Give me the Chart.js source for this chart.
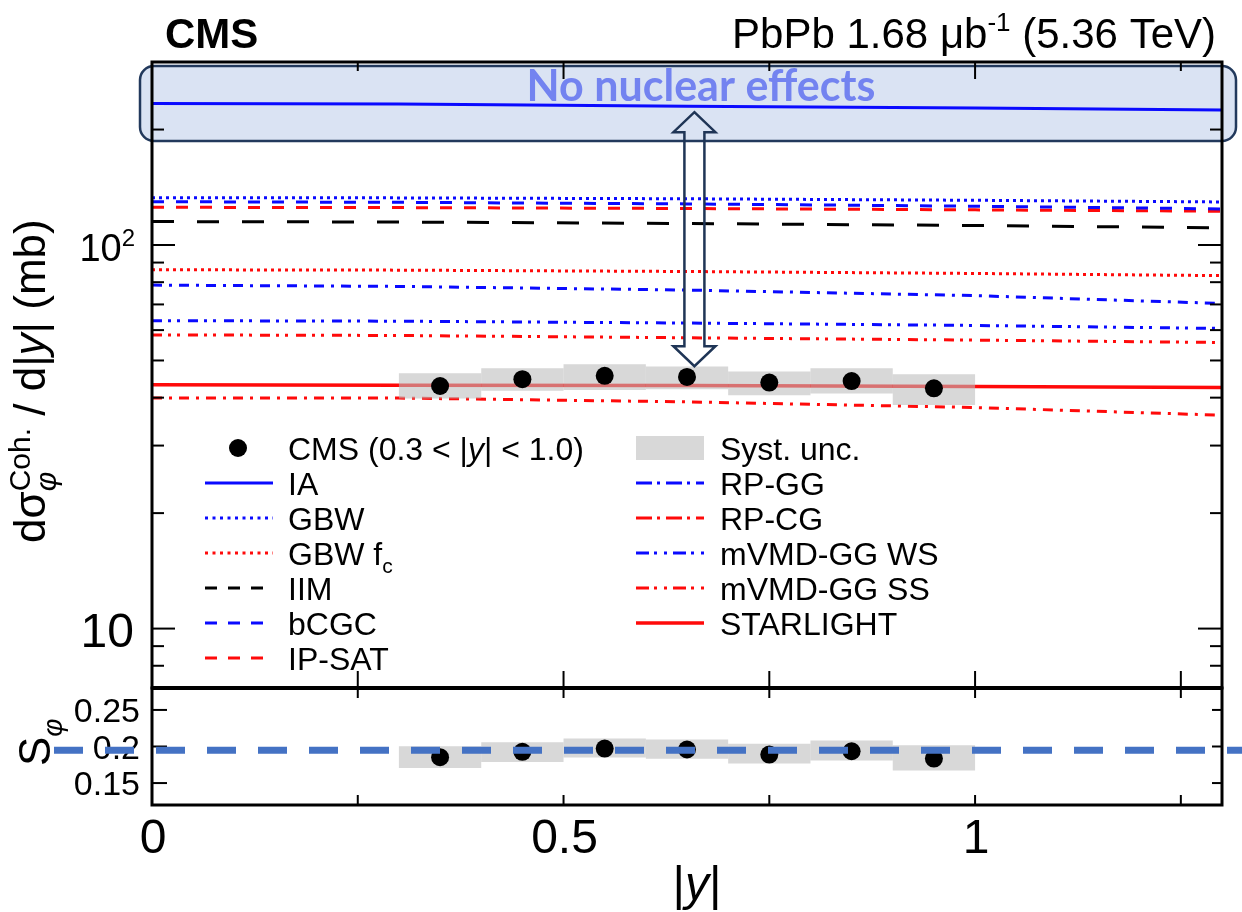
<!DOCTYPE html>
<html>
<head>
<meta charset="utf-8">
<title>Coherent phi photoproduction in PbPb</title>
<script src="https://cdn.jsdelivr.net/npm/chart.js@4.4.1/dist/chart.umd.min.js"></script>
<style>
  html, body { margin: 0; padding: 0; background: #ffffff; }
  #wrap { position: relative; width: 1242px; height: 912px; }
  #wrap canvas { position: absolute; left: 0; top: 0; }
</style>
</head>
<body>
<div id="wrap">
  <canvas id="xsec" width="1242" height="912"></canvas>
  <canvas id="ratio" width="1242" height="912"></canvas>
</div>
<script>
// ---------------- measured points ----------------
const binCenters   = [0.35, 0.45, 0.55, 0.65, 0.75, 0.85, 0.95];
const cmsXsec      = [42.9, 44.7, 45.6, 45.3, 43.8, 44.2, 42.3];   // mb
const cmsSystLow   = [39.8, 41.7, 41.9, 42.1, 40.6, 41.0, 38.3];
const cmsSystHigh  = [46.3, 47.7, 48.9, 48.2, 46.8, 47.7, 46.0];
const cmsSphi      = [0.1853, 0.1927, 0.1972, 0.1959, 0.1890, 0.1935, 0.1835];
const sphiSystLow  = [0.1707, 0.1789, 0.1848, 0.1831, 0.1766, 0.1807, 0.1673];
const sphiSystHigh = [0.2004, 0.2059, 0.2110, 0.2096, 0.2037, 0.2083, 0.2018];
const sphiReference = 0.195;

// ---------------- model curves ----------------
const modelRapidity  = [0, 0.3, 0.65, 1.0, 1.3];
const iaXsec         = [234, 233, 230, 227.5, 225];
const gbwXsec        = [132.9, 132.7, 132.0, 130.8, 129.5];
const gbwFcXsec      = [86.2, 86.0, 85.3, 84.3, 83.2];
const iimXsec        = [115.1, 114.8, 113.8, 112.4, 110.9];
const bcgcXsec       = [129.7, 129.2, 128.0, 126.2, 124.2];
const ipsatXsec      = [125.4, 125.2, 124.5, 123.5, 122.5];
const rpggXsec       = [78.6, 78.0, 76.3, 73.8, 70.4];
const rpcgXsec       = [39.9, 39.9, 39.0, 37.7, 36.0];
const mvmdWsXsec     = [63.5, 63.3, 62.6, 61.7, 60.6];
const mvmdSsXsec     = [58.3, 58.1, 57.3, 56.5, 55.7];
const starlightXsec  = [43.2, 43.1, 43.0, 42.8, 42.5];

// ---------------- axis ticks ----------------
const xTickValues   = [0, 0.25, 0.5, 0.75, 1.0, 1.25];
const xLabelValues  = [0, 0.5, 1];
const xLabelTexts   = ['0', '0.5', '1'];
const yMajorValues  = [10, 100];
const yMinorValues  = [8, 9, 20, 30, 40, 50, 60, 70, 80, 90, 200];
const sphiTickValues = [0.15, 0.2, 0.25];
const sphiTickTexts  = ['0.15', '0.2', '0.25'];

// arrow linking the no-nuclear-effects band to the data
const arrowRapidity = 0.659;
const arrowFrom = 48.3;
const arrowTo   = 222;

const FAM = '"Liberation Sans", Arial, Helvetica, sans-serif';
const SYST_FILL = 'rgba(188,188,188,0.58)';
const BLUE = '#0a0aff', RED = '#ff0a0a';

const models = [
  { name: 'IA',          values: iaXsec,        color: BLUE,   width: 3,   dash: [],                  legendDash: [] },
  { name: 'GBW',         values: gbwXsec,       color: BLUE,   width: 3,   dash: [3, 4],              legendDash: [3, 4.5] },
  { name: 'GBW f_c',     values: gbwFcXsec,     color: RED,    width: 3,   dash: [3, 4],              legendDash: [3, 4.5] },
  { name: 'IIM',         values: iimXsec,       color: '#000', width: 3,   dash: [22, 23],            legendDash: [12, 11] },
  { name: 'bCGC',        values: bcgcXsec,      color: BLUE,   width: 3,   dash: [12, 12],            legendDash: [12, 11] },
  { name: 'IP-SAT',      values: ipsatXsec,     color: RED,    width: 3,   dash: [12, 12],            legendDash: [12, 11] },
  { name: 'RP-GG',       values: rpggXsec,      color: BLUE,   width: 3,   dash: [10, 7, 3, 7],       legendDash: [16, 5, 3, 6] },
  { name: 'RP-CG',       values: rpcgXsec,      color: RED,    width: 3,   dash: [10, 7, 3, 7],       legendDash: [16, 5, 3, 6] },
  { name: 'mVMD-GG WS',  values: mvmdWsXsec,    color: BLUE,   width: 3,   dash: [10, 6, 3, 6, 3, 8], legendDash: [13, 5, 3, 7, 3, 6] },
  { name: 'mVMD-GG SS',  values: mvmdSsXsec,    color: RED,    width: 3,   dash: [10, 6, 3, 6, 3, 8], legendDash: [13, 5, 3, 7, 3, 6] },
  { name: 'STARLIGHT',   values: starlightXsec, color: RED,    width: 3.5, dash: [],                  legendDash: [] }
];

// ---------------- text helper: runs of plain / italic / raised text ----------------
function rich(ctx, segs, x, y, opt) {
  opt = opt || {};
  const sx = opt.sx || 1;
  const items = [];
  let cx = 0, lastStart = 0;
  for (const s of segs) {
    const font = (s.it ? 'italic ' : '') + (s.b ? 'bold ' : '') + (s.px || opt.px || 30) + 'px ' + (s.fam || opt.fam || FAM);
    ctx.font = font;
    const w = ctx.measureText(s.t).width;
    let start = cx;
    if (s.back) { start = lastStart; cx = Math.max(cx, start + w); }
    else { cx = start + w; lastStart = start; }
    items.push({ s, start, font });
  }
  const total = cx * sx;
  let x0 = x;
  if (opt.align === 'right') x0 = x - total;
  else if (opt.align === 'center') x0 = x - total / 2;
  for (const it of items) {
    ctx.save();
    ctx.font = it.font;
    ctx.fillStyle = it.s.color || opt.color || '#000';
    ctx.textAlign = 'left';
    ctx.textBaseline = 'alphabetic';
    ctx.translate(x0 + it.start * sx, y + (it.s.dy || 0));
    ctx.scale(sx, 1);
    ctx.fillText(it.s.t, 0, 0);
    ctx.restore();
  }
  return total;
}

function modelLabel(name, px) {
  if (name.indexOf('_') < 0) return [{ t: name, px }];
  const [a, b] = name.split('_');
  return [{ t: a, px }, { t: b, px: Math.round(px * 0.66), dy: 8 }];
}

function line(ctx, x1, y1, x2, y2) {
  ctx.beginPath(); ctx.moveTo(x1, y1); ctx.lineTo(x2, y2); ctx.stroke();
}

// ---------------- decorations of the cross-section panel ----------------
const xsecDecor = {
  id: 'xsecDecor',
  beforeDatasetsDraw(chart) {
    const { ctx, chartArea: a } = chart;
    // "no nuclear effects" band
    const L = a.left - 12, R = a.right + 14, T = a.top + 4, B = a.top + 79, r = 14;
    ctx.save();
    ctx.beginPath();
    ctx.roundRect(L, T, R - L, B - T, r);
    ctx.fillStyle = '#dae3f3';
    ctx.fill();
    ctx.lineWidth = 2.5;
    ctx.strokeStyle = '#22395c';
    ctx.stroke();
    ctx.restore();
  },
  afterDatasetsDraw(chart) {
    const { ctx, chartArea: a } = chart;
    const xs = chart.scales.x, ys = chart.scales.y;
    ctx.save();
    ctx.font = 'bold 43px Lato, "Open Sans", sans-serif';
    ctx.fillStyle = '#7383f0';
    ctx.textAlign = 'center';
    ctx.textBaseline = 'alphabetic';
    ctx.fillText('No nuclear effects', 701, a.top + 39);
    // hollow double arrow
    const ax = xs.getPixelForValue(arrowRapidity);
    const yT = ys.getPixelForValue(arrowTo), yB = ys.getPixelForValue(arrowFrom);
    const hw = 21, sw = 10, hl = 20;
    ctx.beginPath();
    ctx.moveTo(ax, yT);
    ctx.lineTo(ax + hw, yT + hl); ctx.lineTo(ax + sw, yT + hl);
    ctx.lineTo(ax + sw, yB - hl); ctx.lineTo(ax + hw, yB - hl);
    ctx.lineTo(ax, yB);
    ctx.lineTo(ax - hw, yB - hl); ctx.lineTo(ax - sw, yB - hl);
    ctx.lineTo(ax - sw, yT + hl); ctx.lineTo(ax - hw, yT + hl);
    ctx.closePath();
    ctx.lineWidth = 2.5;
    ctx.lineJoin = 'miter';
    ctx.strokeStyle = '#1f3556';
    ctx.stroke();
    ctx.restore();
  },
  afterDraw(chart) {
    const { ctx, chartArea: a } = chart;
    const xs = chart.scales.x, ys = chart.scales.y;
    ctx.save();
    ctx.strokeStyle = '#000';
    ctx.lineWidth = 2;
    // ticks
    for (const v of xTickValues) {
      const px = xs.getPixelForValue(v);
      if (v > 0) line(ctx, px, a.bottom, px, a.bottom - 17);
      const lt = Math.abs(v * 2 - Math.round(v * 2)) < 1e-6 ? 17 : 9;
      if (v > 0) line(ctx, px, a.top, px, a.top + lt);
    }
    for (const v of yMajorValues) {
      const py = ys.getPixelForValue(v);
      line(ctx, a.left, py, a.left + 23, py);
      line(ctx, a.right, py, a.right - 24, py);
    }
    for (const v of yMinorValues) {
      const py = ys.getPixelForValue(v);
      line(ctx, a.left, py, a.left + 12, py);
      line(ctx, a.right, py, a.right - 12, py);
    }
    // frame
    ctx.lineWidth = 3;
    ctx.strokeRect(a.left, a.top, a.right - a.left, a.bottom - a.top);
    ctx.restore();

    // y tick labels
    const p100 = ys.getPixelForValue(100), p10 = ys.getPixelForValue(10);
    rich(ctx, [{ t: '10', px: 38 }, { t: '2', px: 24, dy: -15 }], 135, p100 + 16, { align: 'right' });
    rich(ctx, [{ t: '10', px: 48 }], 134, p10 + 18, { align: 'right' });

    // y axis title
    ctx.save();
    ctx.translate(45, 543);
    ctx.rotate(-Math.PI / 2);
    rich(ctx, [
      { t: 'd\u03c3', px: 44 },
      { t: 'Coh.', px: 30, dy: -15 },
      { t: '\u03c6', px: 30, it: true, dy: 11, back: true },
      { t: ' / d|', px: 44 },
      { t: 'y', px: 44, it: true },
      { t: '| (mb)', px: 44 }
    ], 0, 0, {});
    ctx.restore();

    // header
    rich(ctx, [{ t: 'CMS', px: 42, b: true }], 165, 48, {});
    rich(ctx, [
      { t: 'PbPb 1.68 \u03bcb', px: 42 },
      { t: '-1', px: 26, dy: -17 },
      { t: ' (5.36 TeV)', px: 42 }
    ], 1216, 48, { align: 'right' });

    // legend
    const rowY = i => 448 + i * 35;
    const fpx = 32;
    // left column
    ctx.save();
    ctx.fillStyle = '#000';
    ctx.beginPath(); ctx.arc(238, rowY(0), 9, 0, Math.PI * 2); ctx.fill();
    ctx.restore();
    rich(ctx, [{ t: 'CMS (0.3 < |', px: fpx }, { t: 'y', px: fpx, it: true }, { t: '| < 1.0)', px: fpx }], 288, rowY(0) + 11.5, {});
    const leftModels = ['IA', 'GBW', 'GBW f_c', 'IIM', 'bCGC', 'IP-SAT'];
    const rightModels = ['RP-GG', 'RP-CG', 'mVMD-GG WS', 'mVMD-GG SS', 'STARLIGHT'];
    const swatch = (m, x1, x2, y) => {
      ctx.save();
      ctx.strokeStyle = m.color; ctx.lineWidth = m.width; ctx.setLineDash(m.legendDash);
      line(ctx, x1, y, x2, y);
      ctx.restore();
    };
    leftModels.forEach((n, i) => {
      const m = models.find(mm => mm.name === n);
      swatch(m, 205, 273, rowY(i + 1));
      rich(ctx, modelLabel(n, fpx), 288, rowY(i + 1) + 11.5, {});
    });
    // right column
    ctx.save();
    ctx.fillStyle = SYST_FILL;
    ctx.fillRect(636, rowY(0) - 12, 68, 24);
    ctx.restore();
    rich(ctx, [{ t: 'Syst. unc.', px: fpx }], 720, rowY(0) + 11.5, {});
    rightModels.forEach((n, i) => {
      const m = models.find(mm => mm.name === n);
      swatch(m, 636, 704, rowY(i + 1));
      rich(ctx, modelLabel(n, fpx), 720, rowY(i + 1) + 11.5, {});
    });
  }
};

// ---------------- decorations of the ratio panel ----------------
const ratioDecor = {
  id: 'ratioDecor',
  afterDraw(chart) {
    const { ctx, chartArea: a } = chart;
    const xs = chart.scales.x, ys = chart.scales.y;
    ctx.save();
    ctx.strokeStyle = '#000';
    ctx.lineWidth = 2;
    for (const v of xTickValues) {
      if (v === 0) continue;
      const px = xs.getPixelForValue(v);
      line(ctx, px, a.top, px, a.top + 10);
      line(ctx, px, a.bottom, px, a.bottom - 10);
    }
    for (const v of sphiTickValues) {
      const py = ys.getPixelForValue(v);
      line(ctx, a.left, py, a.left + 15, py);
      line(ctx, a.right, py, a.right - 10, py);
    }
    ctx.lineWidth = 3;
    ctx.strokeRect(a.left, a.top, a.right - a.left, a.bottom - a.top);
    ctx.lineWidth = 4;
    line(ctx, a.left, a.top, a.right, a.top);
    ctx.restore();

    // tick labels
    sphiTickValues.forEach((v, i) => {
      rich(ctx, [{ t: sphiTickTexts[i], px: 34 }], 140, ys.getPixelForValue(v) + 12, { align: 'right' });
    });
    xLabelValues.forEach((v, i) => {
      rich(ctx, [{ t: xLabelTexts[i], px: 48 }], xs.getPixelForValue(v) + 1, 853, { align: 'center' });
    });
    // x title
    rich(ctx, [{ t: '|', px: 48 }, { t: 'y', px: 48, it: true }, { t: '|', px: 48 }], 697, 900, { align: 'center' });

    // y title
    ctx.save();
    ctx.translate(50, 766);
    ctx.rotate(-Math.PI / 2);
    rich(ctx, [{ t: 'S', px: 44 }, { t: '\u03c6', px: 28, it: true, dy: 12 }], 0, 0, {});
    ctx.restore();

    // reference line drawn across the full width
    const yr = ys.getPixelForValue(sphiReference);
    ctx.save();
    ctx.strokeStyle = '#4472c4';
    ctx.lineWidth = 7;
    ctx.setLineDash([29, 22]);
    line(ctx, 54, yr, chart.width, yr);
    ctx.restore();
  }
};

const common = {
  responsive: false,
  animation: false,
  devicePixelRatio: 1,
  events: [],
  plugins: { legend: { display: false }, tooltip: { enabled: false }, title: { display: false } }
};

const modelDatasets = models.map((m, i) => ({
  type: 'line',
  label: m.name,
  data: modelRapidity.map((x, k) => ({ x, y: m.values[k] })),
  borderColor: m.color,
  borderWidth: m.width,
  borderDash: m.dash,
  pointRadius: 0,
  tension: 0,
  fill: false,
  order: 10 + i
}));

new Chart(document.getElementById('xsec'), {
  type: 'line',
  data: {
    datasets: [
      {
        type: 'scatter',
        label: 'CMS',
        data: binCenters.map((x, i) => ({ x, y: cmsXsec[i] })),
        pointRadius: 9,
        pointBackgroundColor: '#000',
        pointBorderWidth: 0,
        order: 0
      },
      {
        type: 'bar',
        label: 'Syst. unc.',
        data: binCenters.map((x, i) => ({ x, y: [cmsSystLow[i], cmsSystHigh[i]] })),
        backgroundColor: SYST_FILL,
        borderWidth: 0,
        inflateAmount: 0,
        barPercentage: 1,
        categoryPercentage: 1,
        order: 1
      },
      ...modelDatasets
    ]
  },
  options: Object.assign({}, common, {
    layout: { padding: { left: 152, right: 20, top: 62, bottom: 224 } },
    scales: {
      x: { type: 'linear', min: 0, max: 1.3, display: false, offset: false, ticks: { stepSize: 0.25, includeBounds: false } },
      y: { type: 'logarithmic', min: 7, max: 300, display: false }
    }
  }),
  plugins: [xsecDecor]
});

new Chart(document.getElementById('ratio'), {
  type: 'line',
  data: {
    datasets: [
      {
        type: 'scatter',
        label: 'CMS',
        data: binCenters.map((x, i) => ({ x, y: cmsSphi[i] })),
        pointRadius: 9,
        pointBackgroundColor: '#000',
        pointBorderWidth: 0,
        order: 0
      },
      {
        type: 'bar',
        label: 'Syst. unc.',
        data: binCenters.map((x, i) => ({ x, y: [sphiSystLow[i], sphiSystHigh[i]] })),
        backgroundColor: SYST_FILL,
        borderWidth: 0,
        inflateAmount: 0,
        barPercentage: 1,
        categoryPercentage: 1,
        order: 1
      }
    ]
  },
  options: Object.assign({}, common, {
    layout: { padding: { left: 152, right: 20, top: 688, bottom: 107 } },
    scales: {
      x: { type: 'linear', min: 0, max: 1.3, display: false, offset: false, ticks: { stepSize: 0.25, includeBounds: false } },
      y: { type: 'linear', min: 0.12, max: 0.28, display: false }
    }
  }),
  plugins: [ratioDecor]
});
</script>
</body>
</html>
